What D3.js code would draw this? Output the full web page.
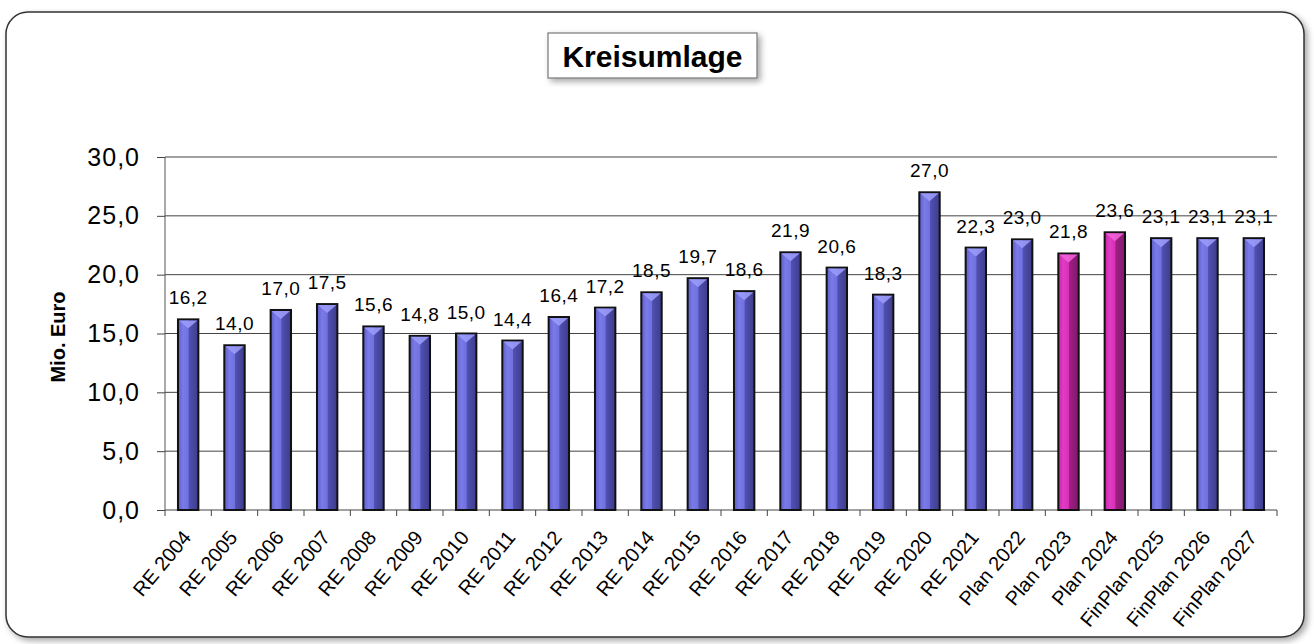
<!DOCTYPE html>
<html><head><meta charset="utf-8">
<script src="https://cdn.jsdelivr.net/npm/d3@7"></script>
<style>body{margin:0;background:#fff}svg{display:block}</style>
</head><body>
<script>
const categories = ["RE 2004","RE 2005","RE 2006","RE 2007","RE 2008","RE 2009","RE 2010","RE 2011","RE 2012","RE 2013","RE 2014","RE 2015","RE 2016","RE 2017","RE 2018","RE 2019","RE 2020","RE 2021","Plan 2022","Plan 2023","Plan 2024","FinPlan 2025","FinPlan 2026","FinPlan 2027"];
const values = [16.2,14.0,17.0,17.5,15.6,14.8,15.0,14.4,16.4,17.2,18.5,19.7,18.6,21.9,20.6,18.3,27.0,22.3,23.0,21.8,23.6,23.1,23.1,23.1];
const highlighted = ["Plan 2023","Plan 2024"];
const yTicks = [0,5,10,15,20,25,30];
const title = "Kreisumlage";
const yLabel = "Mio. Euro";

const FONT = "Liberation Sans, Arial, sans-serif";
const W = 1314, H = 644;
const svg = d3.select("body").append("svg").attr("width", W).attr("height", H);
const defs = svg.append("defs");

const shadow = defs.append("filter").attr("id","sh").attr("x","-10%").attr("y","-10%").attr("width","130%").attr("height","130%");
shadow.append("feDropShadow").attr("dx",3).attr("dy",3).attr("stdDeviation",3).attr("flood-color","#000").attr("flood-opacity",0.35);

function grad(id, stops){
  const g = defs.append("linearGradient").attr("id",id).attr("x1","0").attr("x2","1").attr("y1","0").attr("y2","0");
  stops.forEach(s=>g.append("stop").attr("offset",s[0]).attr("stop-color",s[1]));
}
grad("gBlue",[["0%","#5e5ec8"],["25%","#7a7ae8"],["50%","#7070e0"],["55%","#5050b0"],["100%","#3c3c8c"]]);
grad("gMag",[["0%","#c828a8"],["25%","#e03cc4"],["50%","#d830b8"],["55%","#a01e82"],["100%","#801870"]]);

// outer frame
svg.append("rect").attr("x",6).attr("y",12).attr("width",1298).attr("height",625).attr("rx",22)
  .attr("fill","#fff").attr("stroke","#333").attr("stroke-width",1.5).attr("filter","url(#sh)");

const m = {l:165, r:1277, t:157, b:510};
const x = d3.scaleBand().domain(categories).range([m.l, m.r]).paddingInner(0.56).paddingOuter(0.28);
const y = d3.scaleLinear().domain([0,30]).range([m.b, m.t]);

// gridlines
svg.append("g").selectAll("line").data(yTicks.filter(d=>d>0)).join("line")
  .attr("x1",m.l).attr("x2",m.r).attr("y1",d=>y(d)).attr("y2",d=>y(d))
  .attr("stroke","#444").attr("stroke-width",1);

// y axis
const yAxis = svg.append("g").attr("transform",`translate(${m.l},0)`)
  .call(d3.axisLeft(y).tickValues(yTicks).tickSize(8).tickPadding(17).tickFormat(d=>d3.format(".1f")(d).replace(".",",")));
yAxis.select(".domain").attr("stroke","#555").attr("d",`M0,${m.t}V${m.b}`);
yAxis.selectAll(".tick line").attr("stroke","#444");
yAxis.selectAll("text").attr("font-family",FONT).attr("font-size",25).attr("letter-spacing",1).attr("fill","#000");

// x axis
const xs = d3.scaleBand().domain(categories).range([m.l,m.r]);
const xg = svg.append("g").attr("transform",`translate(0,${m.b})`);
xg.append("line").attr("x1",m.l).attr("x2",m.r).attr("stroke","#444");
xg.selectAll("line.t").data(d3.range(categories.length+1)).join("line").attr("class","t")
  .attr("x1",i=>m.l+i*xs.step()).attr("x2",i=>m.l+i*xs.step()).attr("y1",0).attr("y2",6).attr("stroke","#444");
xg.selectAll("text").data(categories).join("text")
  .attr("transform",d=>`translate(${x(d)+x.bandwidth()/2+4},${28}) rotate(-50)`)
  .attr("text-anchor","end")
  .attr("font-family",FONT).attr("font-size",20).attr("fill","#000")
  .text(d=>d);

// bars
const bars = svg.append("g").selectAll("g").data(categories.map((c,i)=>({c,v:values[i]}))).join("g");
bars.append("rect")
  .attr("x",d=>x(d.c)).attr("y",d=>y(d.v)).attr("width",x.bandwidth()).attr("height",d=>y(0)-y(d.v))
  .attr("fill",d=>highlighted.includes(d.c)?"url(#gMag)":"url(#gBlue)")
  .attr("stroke","#111").attr("stroke-width",2);
bars.append("path")
  .attr("d",d=>{const x0=x(d.c)+1,x1=x(d.c)+x.bandwidth()-1,yt=y(d.v)+1,xm=(x0+x1)/2;return `M${x0},${yt}L${x1},${yt}L${xm},${yt+8}Z`;})
  .attr("fill",d=>highlighted.includes(d.c)?"#f060d8":"#9a9af8").attr("opacity",0.9);

// value labels
svg.append("g").selectAll("text").data(categories.map((c,i)=>({c,v:values[i]}))).join("text")
  .attr("x",d=>x(d.c)+x.bandwidth()/2).attr("y",d=>y(d.v)-15)
  .attr("text-anchor","middle").attr("font-family",FONT).attr("font-size",19).attr("letter-spacing",0.5).attr("fill","#000")
  .text(d=>d3.format(".1f")(d.v).replace(".",","));

// y label
svg.append("text").attr("transform",`translate(65,337) rotate(-90)`).attr("text-anchor","middle")
  .attr("font-family",FONT).attr("font-weight","bold").attr("font-size",20).text(yLabel);

// title
const tg = svg.append("g");
tg.append("rect").attr("x",548).attr("y",33).attr("width",209).attr("height",45).attr("fill","#fff").attr("stroke","#777").attr("stroke-width",1.2).attr("filter","url(#sh)");
tg.append("text").attr("x",652.5).attr("y",67).attr("text-anchor","middle")
  .attr("font-family",FONT).attr("font-weight","bold").attr("font-size",30).text(title);
</script>
</body></html>
